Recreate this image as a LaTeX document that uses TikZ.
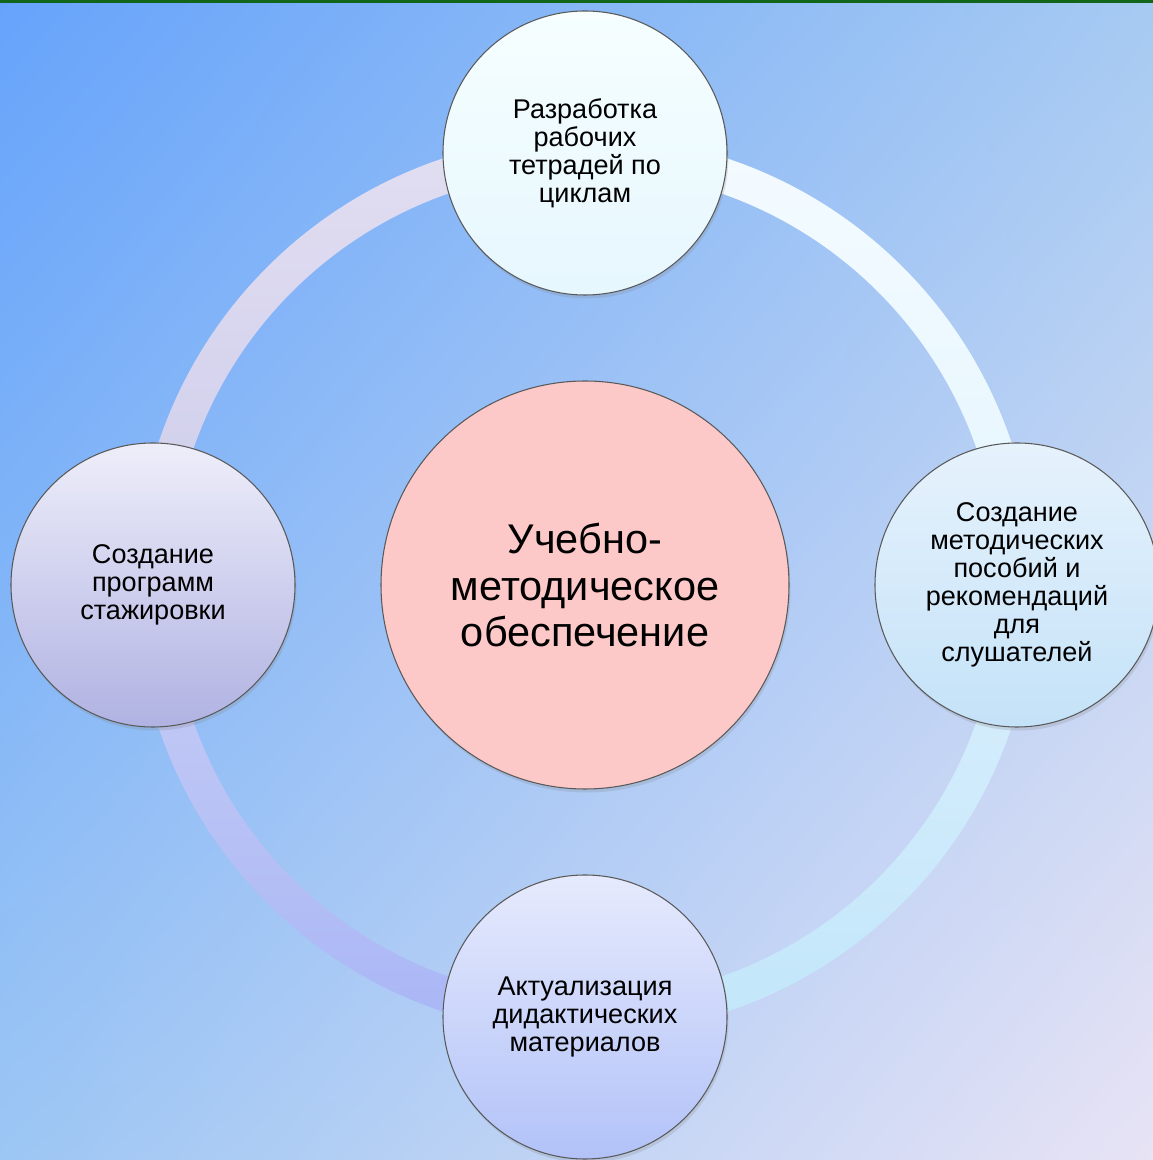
\documentclass[tikz,border=0pt]{standalone}
\usepackage{fontspec}
\setmainfont{Liberation Sans}
\usetikzlibrary{shadows,shadings}

\definecolor{bgUL}{HTML}{66A3FB}
\definecolor{bgUR}{HTML}{A6CAF2}
\definecolor{bgLL}{HTML}{9CC6F4}
\definecolor{bgLR}{HTML}{E8E3F5}
\definecolor{barGreen}{HTML}{11661A}
\definecolor{hubPink}{HTML}{FDC8C8}
\definecolor{ringTLa}{HTML}{E2DEF2}
\definecolor{ringTLb}{HTML}{CCCCEA}
\definecolor{ringTRa}{HTML}{F4FBFF}
\definecolor{ringTRb}{HTML}{E4F5FE}
\definecolor{ringBRa}{HTML}{DAEFFD}
\definecolor{ringBRb}{HTML}{C2E6FA}
\definecolor{ringBLa}{HTML}{C8CEF4}
\definecolor{ringBLb}{HTML}{A9B6F6}
\definecolor{topA}{HTML}{F6FEFF}
\definecolor{topB}{HTML}{E6F7FE}
\definecolor{rightA}{HTML}{E6F2FC}
\definecolor{rightB}{HTML}{C4E2F8}
\definecolor{bottomA}{HTML}{E6EAFD}
\definecolor{bottomB}{HTML}{B2C2F8}
\definecolor{leftA}{HTML}{EEEEFA}
\definecolor{leftB}{HTML}{B0B2E2}

\newcommand{\ringpart}[4]{
	\pgfmathsetmacro{\RPa}{#1}
	\pgfmathsetmacro{\RPb}{#2}
	\shade[top color=#3, bottom color=#4] (hub) ++(\RPa:\ringOut) arc[start angle=\RPa, end angle=\RPb, radius=\ringOut] -- ++(\RPb:-\ringW) arc[start angle=\RPb, end angle=\RPa, radius=\ringIn] -- cycle;
}

\begin{document}
\begin{tikzpicture}[
	sat/.style={circle, draw=black!65, line width=0.6pt, minimum size=5.68cm, inner sep=0pt, align=center,
		text=black, font=\fontsize{15.4}{15.9}\selectfont,
		drop shadow={shadow xshift=0.03cm, shadow yshift=-0.07cm, opacity=0.22}},
	hubdisc/.style={circle, draw=black!65, line width=0.6pt, fill=hubPink, minimum size=8.16cm, inner sep=0pt, align=center,
		text=black, font=\fontsize{23.6}{26.2}\selectfont,
		drop shadow={shadow xshift=0.03cm, shadow yshift=-0.07cm, opacity=0.22}}
]
\useasboundingbox (0,0) rectangle (23.06,23.2);
\shade[upper left=bgUL, upper right=bgUR, lower left=bgLL, lower right=bgLR] (0,0) rectangle (23.06,23.2);
\fill[barGreen] (0,23.14) rectangle (23.06,23.2);

\pgfmathsetmacro{\ringR}{8.64}
\pgfmathsetmacro{\ringW}{0.7}
\pgfmathsetmacro{\ringOut}{\ringR+\ringW/2}
\pgfmathsetmacro{\ringIn}{\ringR-\ringW/2}

\coordinate (hub) at (11.7,11.5);

\ringpart{90}{180}{ringTLa}{ringTLb}
\ringpart{0}{90}{ringTRa}{ringTRb}
\ringpart{270}{360}{ringBRa}{ringBRb}
\ringpart{180}{270}{ringBLa}{ringBLb}

\node[sat, top color=topA, bottom color=topB] (tetradi) at ([shift={(90:\ringR)}]hub) {Разработка\\рабочих\\тетрадей по\\циклам};
\node[sat, top color=rightA, bottom color=rightB] (posobiya) at ([shift={(0:\ringR)}]hub) {Создание\\методических\\пособий и\\рекомендаций\\для\\слушателей};
\node[sat, top color=bottomA, bottom color=bottomB] (materialy) at ([shift={(270:\ringR)}]hub) {Актуализация\\дидактических\\материалов};
\node[sat, top color=leftA, bottom color=leftB] (stazhirovka) at ([shift={(180:\ringR)}]hub) {Создание\\программ\\стажировки};

\node[hubdisc] (obespechenie) at (hub) {Учебно-\\методическое\\обеспечение};
\end{tikzpicture}
\end{document}
